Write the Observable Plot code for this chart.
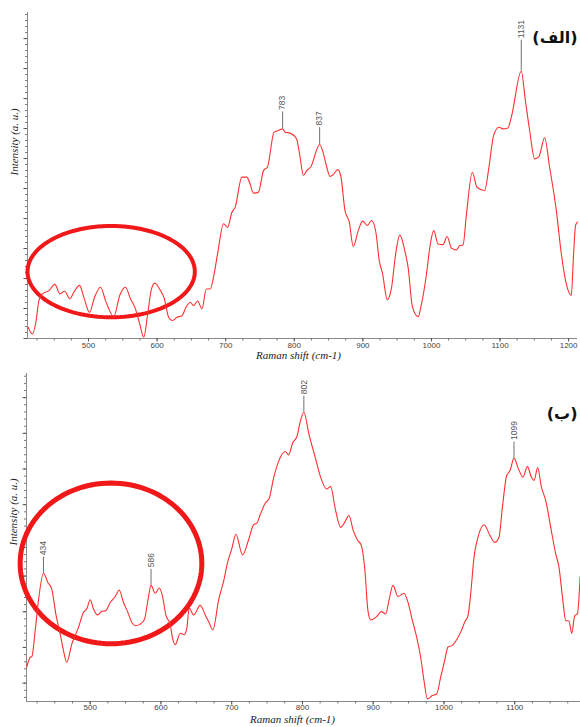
<!DOCTYPE html>
<html><head><meta charset="utf-8">
<script src="https://cdn.jsdelivr.net/npm/d3@7"></script>
<script src="https://cdn.jsdelivr.net/npm/@observablehq/plot@0.6"></script>
<style>body{margin:0;background:#fff}#chart{width:580px}svg{display:block;overflow:visible}</style>
</head><body><div id="chart"></div>
<script>
// ---- Panel (الف) ----
const topShift = [411.7,418.1,422.9,427.7,432.6,442.2,451.0,458.3,465.1,472.8,478.6,486.9,493.2,501.5,508.7,517.5,524.7,529.5,536.8,545.5,553.8,561.1,568.4,574.6,580.5,586.3,591.2,596.5,604.8,610.6,616.8,621.8,629.1,636.3,642.2,648.4,653.2,659.0,665.4,671.7,677.5,682.3,688.1,696.9,702.7,709.1,713.9,723.6,730.9,734.7,740.5,747.8,755.1,760.9,770.6,776.9,783,786.6,793.9,803.3,808.5,813.3,818.3,824.0,837,842,847.3,852.1,856.9,863.3,867.7,873.9,880.2,886.0,893.3,899.7,906.4,912.8,919.0,923.8,928.8,935.5,941.9,948.1,954.0,961.2,966.0,972.4,980.6,985.5,992.8,997.6,1003.4,1009.7,1017.0,1022.8,1029.2,1036.5,1041.3,1046.1,1051.1,1059.7,1066.4,1077.6,1083.9,1090.7,1098.4,1104.3,1111.5,1116.5,1131,1137,1143.2,1150.5,1156.8,1165.1,1172.3,1182.1,1189.4,1196.6,1203.9,1207.3,1210.2,1213];
const topIntensity = [3.5,1.4,4.6,11.7,13.7,14.7,16.6,13.7,14.5,12.2,14.2,16.3,12.6,8.0,12.6,15.7,11.7,9.1,6.7,13.2,15.7,12.2,9.1,4.5,0.4,7.6,14.7,17.0,14.7,12.2,6.5,5.5,6.5,7.0,9.6,11.1,10.1,11.5,9.1,15.2,15.2,18.8,25.9,35.2,34.1,38.7,40.3,49.5,49.5,47.9,44.6,44.9,51.5,52.6,63.3,63.8,64.3,63.3,63.0,61.3,55.6,50.0,51.5,52.6,59.5,57.1,52.6,49.7,50.3,51.8,50.0,39.3,35.7,28.2,33.1,36.0,34.7,36.2,32.6,24.0,19.8,11.9,15.7,26.4,31.7,26.9,21.8,9.6,6.7,10.6,19.8,27.9,33.1,29.0,28.8,31.3,27.7,27.2,28.5,28.7,38.2,51.0,46.4,45.4,52.6,62.3,64.8,64.3,64.6,67.9,82.0,73.0,63.8,55.1,55.8,61.6,52.6,39.3,26.0,16.8,13.2,26.0,34.7,35.7];
const topPeaks = [783, 837, 1131];

// ---- Panel (ب) ----
const bottomShift = [410.4,415.2,417.5,422.3,426.9,434,440.1,445.7,451.4,457.6,462.3,466.9,474.0,483.5,490.6,495.2,500.0,504.7,510.4,516.4,522.1,528.3,535.4,541.0,547.1,553.2,558.9,563.7,570.7,576.8,581.5,586,591.9,597.6,602.3,606.9,613.2,616.4,620.2,627.3,632.9,636.6,640.0,646.1,655.6,662.6,668.3,673.4,681.5,688.5,694.6,700.3,705.9,715.4,723.9,731.0,735.6,740.4,747.5,753.1,759.2,766.3,775.8,780.5,786.1,792.2,797.0,802,809.1,818.6,825.6,834.1,839.8,846.9,854.0,859.6,865.7,871.9,877.6,883.2,887.9,892.6,896.4,904.9,911.5,917.6,922.3,927.9,935.0,943.5,949.1,955.4,961.4,967.1,971.8,976.6,983.6,989.7,995.4,1001.0,1005.7,1011.9,1019.0,1024.6,1029.3,1034.0,1037.8,1042.5,1048.1,1056.6,1065.1,1071.7,1077.8,1082.6,1088.7,1093.4,1099,1105.2,1111.7,1117.9,1123.6,1127.3,1132.5,1137.7,1143.8,1150.9,1158.0,1162.6,1167.5,1172.1,1176.8,1180.6,1184.9,1188.7,1192.4];
const bottomIntensity = [10.5,13.5,13.7,21.6,30.8,39.1,36.3,34.3,26.7,20.6,15.5,11.9,17.5,22.6,27.2,28.2,31.0,28.2,26.4,27.5,27.7,30.2,32.0,34.0,30.2,27.2,24.1,23.1,23.6,25.1,30.7,35.4,33.0,34.6,32.0,26.4,23.4,19.3,17.3,20.8,20.4,22.4,28.5,26.4,29.3,26.4,23.9,21.8,30.9,36.6,42.7,46.7,51.0,44.7,49.3,53.9,54.4,57.0,60.5,62.0,68.1,73.2,76.2,75.2,78.8,80.8,85.4,88.2,81.6,74.0,68.4,64.8,65.5,58.2,53.1,54.6,56.7,52.1,49.3,47.6,40.9,27.7,24.9,25.9,27.4,26.7,30.8,35.4,32.0,33.0,30.3,24.7,19.6,13.5,6.4,0.8,1.8,2.3,7.4,12.5,16.6,17.1,19.2,21.6,24.2,26.2,32.8,44.0,50.1,53.9,50.6,48.5,50.1,59.2,68.9,70.4,74.2,71.0,68.4,71.6,68.4,67.4,71.3,65.4,61.3,53.1,45.0,40.9,31.9,24.7,24.5,20.8,26.2,26.7,38.0];
const bottomPeaks = [434, 586, 802, 1099];

const panelLabels = ["(الف)", "(ب)"];
const xLabel = "Raman shift (cm-1)";
const yLabel = "Intensity (a. u.)";
const xTickLabels = [500, 600, 700, 800, 900, 1000, 1100, 1200];

function ellipsePoints(cx, cy, rx, ry) {
  return d3.range(0, 121).map(i => {
    const t = (i / 120) * 2 * Math.PI;
    return {x: cx + rx * Math.cos(t), y: cy + ry * Math.sin(t)};
  });
}

function panel(o) {
  const data = o.shift.map((x, i) => ({x, y: o.intensity[i]}));
  const peakData = o.peaks.map(p => {
    const d = data.find(d => d.x === p);
    const len = o.leader(p);
    return {x: p, y: d.y, y2: d.y + len, label: String(p)};
  });
  const [x0, x1] = o.domain;
  const minorX = d3.range(Math.ceil(x0 / 25) * 25, x1 + 0.01, 25);
  const majorX = minorX.filter(v => v % 100 === 0);
  const majorY = d3.range(o.yStart, 100.01, o.yStep);
  const minorY = d3.range(o.yStart % (o.yStep / 5), 100.01, o.yStep / 5);
  const ell = ellipsePoints(...o.ellipse);
  const noText = () => "";
  return Plot.plot({
    width: 580, height: o.height,
    marginLeft: o.margins[3], marginRight: o.margins[1], marginTop: o.margins[0], marginBottom: o.margins[2],
    x: {domain: o.domain, axis: null},
    y: {domain: [0, 100], axis: null},
    style: {background: "#fff"},
    marks: [
      Plot.ruleY([0], {stroke: "#8a8a8a", strokeWidth: 1}),
      Plot.ruleX([x0], {stroke: "#8a8a8a", strokeWidth: 1}),
      Plot.axisX(minorX, {tickSize: 2.5, tickFormat: noText, stroke: "#777", label: null}),
      Plot.axisX(majorX, {tickSize: 3.5, tickFormat: noText, stroke: "#555", label: null}),
      Plot.axisX(xTickLabels.filter(v => v >= x0 && v <= x1), {tickSize: 0, tickPadding: o.tickPadding, fontSize: 8, fill: "#444", tickFormat: d => String(d), label: null, fontFamily: "Liberation Sans, Arial, sans-serif"}),
      Plot.axisY(minorY, {tickSize: 2, tickFormat: noText, stroke: "#777", label: null}),
      Plot.axisY(majorY, {tickSize: 3.5, tickFormat: noText, stroke: "#555", label: null}),
      Plot.text([xLabel], {text: d => d, frameAnchor: "bottom", dy: o.xLabelDy, dx: o.xLabelDx, fontStyle: "italic", fontFamily: "Liberation Serif, Times New Roman, serif", fontSize: 11, fill: "#222"}),
      Plot.text([yLabel], {text: d => d, frameAnchor: "left", rotate: -90, dx: -13, dy: o.yLabelDy, fontStyle: "italic", fontFamily: "Liberation Serif, Times New Roman, serif", fontSize: 11, fill: "#222"}),
      Plot.line(ell, {x: "x", y: "y", stroke: "#f01818", strokeWidth: o.ellipseWidth, curve: "linear-closed"}),
      Plot.line(data, {x: "x", y: "y", stroke: "#ff3030", strokeWidth: 1.1, curve: "monotone-x"}),
      Plot.ruleX(peakData, {x: "x", y1: "y", y2: "y2", stroke: "#707070", strokeWidth: 1}),
      Plot.text(peakData, {x: "x", y: "y2", text: "label", rotate: -90, textAnchor: "start", dy: -2, fontSize: 8.5, fill: "#555", fontFamily: "Liberation Sans, Arial, sans-serif"}),
      Plot.text([o.label], {text: d => d, frameAnchor: "top-right", textAnchor: "end", dx: o.labelDx, dy: o.labelDy, fontSize: 16, fontWeight: "bold", fill: "#111", fontFamily: "DejaVu Sans, sans-serif"})
    ]
  });
}

const chart = document.getElementById("chart");
chart.appendChild(panel({
  shift: topShift, intensity: topIntensity, peaks: topPeaks,
  height: 365, margins: [12, 3, 27, 27], domain: [411, 1213],
  yStart: 0, yStep: 9.2, leader: p => p === 1131 ? 9.5 : 5.2,
  ellipse: [533, 20.5, 122, 14], ellipseWidth: 4, tickPadding: 4,
  label: panelLabels[0], labelDx: 0, labelDy: 19, xLabelDy: 20.5, xLabelDx: -4, yLabelDy: 0
}));
chart.appendChild(panel({
  shift: bottomShift, intensity: bottomIntensity, peaks: bottomPeaks,
  height: 362, margins: [8, 0, 26, 26], domain: [410, 1193],
  yStart: 5.6, yStep: 10.88, leader: p => 4.9,
  ellipse: [529.4, 42.1, 128.4, 24.5], ellipseWidth: 5, tickPadding: 3,
  label: panelLabels[1], labelDx: -3, labelDy: 34, xLabelDy: 21, xLabelDx: -11, yLabelDy: 8
}));
</script></body></html>
